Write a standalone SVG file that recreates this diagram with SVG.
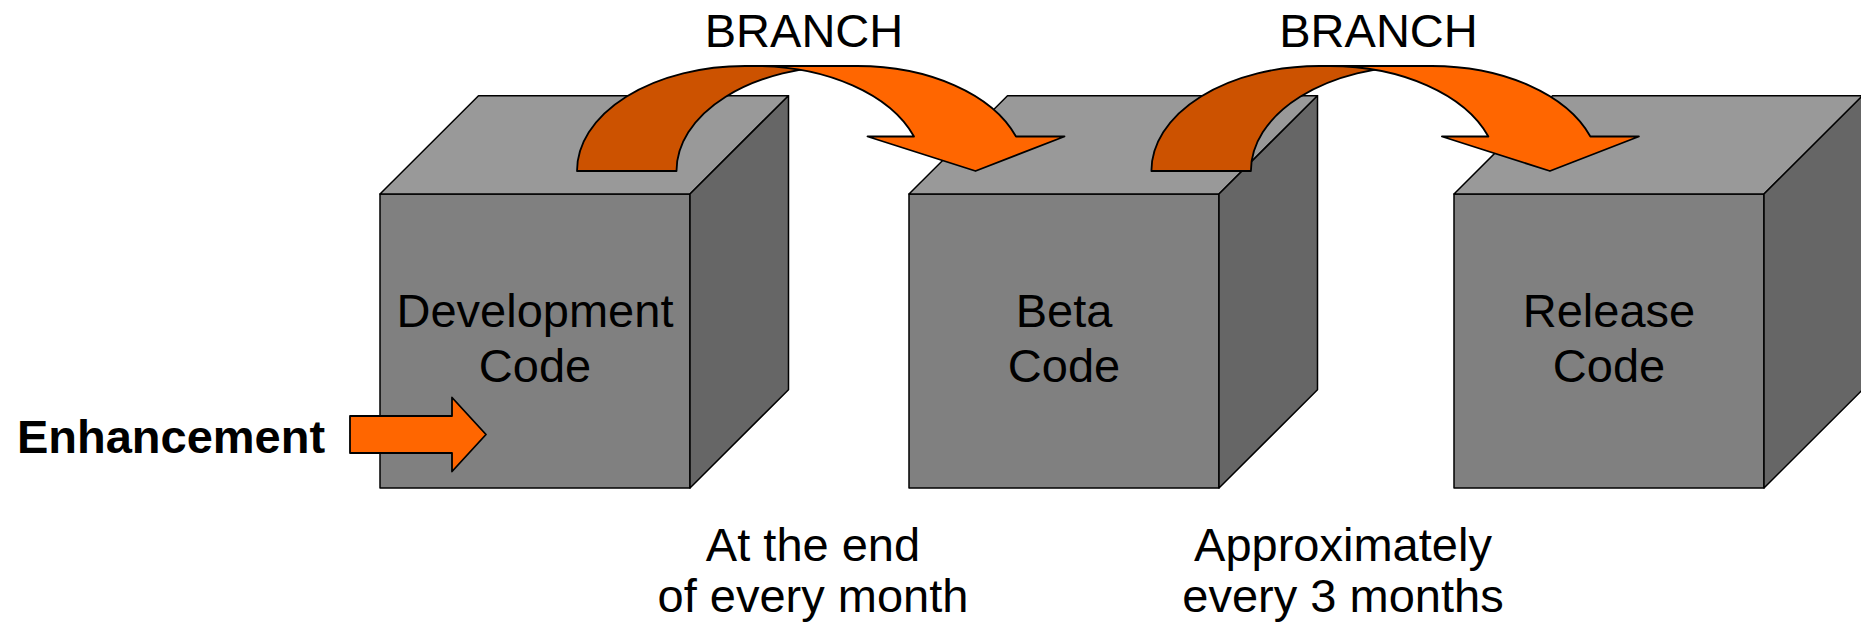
<svg xmlns="http://www.w3.org/2000/svg" width="1861" height="630" viewBox="0 0 1861 630">
<style>
.front{fill:#808080;stroke:#000;stroke-width:1.5;stroke-linejoin:round}
.top{fill:#999999;stroke:#000;stroke-width:1.5;stroke-linejoin:round}
.side{fill:#666666;stroke:#000;stroke-width:1.5;stroke-linejoin:round}
.dark{fill:#CC5200;stroke:#000;stroke-width:1.8;stroke-linejoin:round}
.light{fill:#FF6600;stroke:#000;stroke-width:1.8;stroke-linejoin:round}
text{font-family:"Liberation Sans",Arial,sans-serif;font-size:47px;fill:#000;text-anchor:middle}
.bold{font-weight:bold}
</style>
<defs>
<g id="cube">
<rect class="front" x="0" y="194" width="310" height="294"/>
<polygon class="top" points="0,194 98.5,95.7 408.5,95.7 310,194"/>
<polygon class="side" points="310,194 408.5,95.7 408.5,389.7 310,488"/>
</g>
</defs>
<g id="node-development">
<use href="#cube" x="380"/>
<text x="535" y="327">Development</text>
<text x="535" y="381.5">Code</text>
</g>
<g id="node-beta">
<use href="#cube" x="909"/>
<text x="1064" y="327">Beta</text>
<text x="1064" y="381.5">Code</text>
</g>
<g id="node-release">
<use href="#cube" x="1454"/>
<text x="1609" y="327">Release</text>
<text x="1609" y="381.5">Code</text>
</g>
<g id="connectors">
<g id="branch1">
<path class="dark" d="M577,171 A168,105 0 0 1 745,66 L844.5,66 A168,105 0 0 0 676.5,171 Z"/>
<path class="light" d="M755,66 L857,66 A168,105 0 0 1 1016,136.5 L1064.5,136.5 L975.5,171 L867.5,136.5 L914,136.5 A168,105 0 0 0 755,66 Z"/>
</g>
<g id="branch2" transform="translate(574.4,0)">
<path class="dark" d="M577,171 A168,105 0 0 1 745,66 L844.5,66 A168,105 0 0 0 676.5,171 Z"/>
<path class="light" d="M755,66 L857,66 A168,105 0 0 1 1016,136.5 L1064.5,136.5 L975.5,171 L867.5,136.5 L914,136.5 A168,105 0 0 0 755,66 Z"/>
</g>
<polygon id="enhancement-arrow" class="light" points="350,416 452,416 452,397.5 486,434.5 452,471.5 452,453 350,453"/>
</g>
<g id="labels">
<text x="804" y="46.5">BRANCH</text>
<text x="1378.5" y="46.5">BRANCH</text>
<text class="bold" x="171" y="452.5">Enhancement</text>
<text x="813" y="561">At the end</text>
<text x="813" y="612">of every month</text>
<text x="1343" y="561">Approximately</text>
<text x="1343" y="612">every 3 months</text>
</g>
</svg>
